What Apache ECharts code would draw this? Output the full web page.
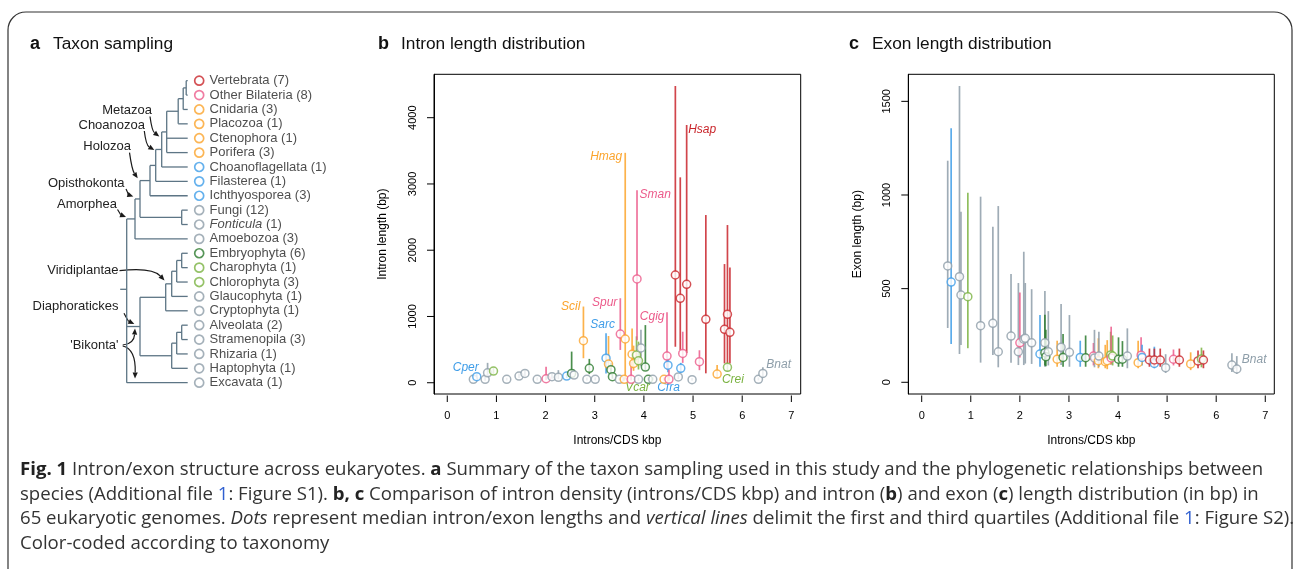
<!DOCTYPE html>
<html>
<head>
<meta charset="utf-8">
<title>Fig. 1 Intron/exon structure across eukaryotes</title>
<script src="https://cdn.jsdelivr.net/npm/echarts@6/dist/echarts.min.js"></script>
<style>
  html, body { margin: 0; padding: 0; background: #fff; }
  #fig { width: 1293px; height: 569px; }
</style>
</head>
<body>
<div id="fig"></div>
<script>
// ---- panel a: taxon sampling (top to bottom) ----
var taxa = ['Vertebrata', 'Other Bilateria', 'Cnidaria', 'Placozoa', 'Ctenophora', 'Porifera',
  'Choanoflagellata', 'Filasterea', 'Ichthyosporea', 'Fungi', 'Fonticula', 'Amoebozoa',
  'Embryophyta', 'Charophyta', 'Chlorophyta', 'Glaucophyta', 'Cryptophyta', 'Alveolata',
  'Stramenopila', 'Rhizaria', 'Haptophyta', 'Excavata'];
var taxonCounts = [7, 8, 3, 1, 1, 3, 1, 1, 3, 12, 1, 3, 6, 1, 3, 1, 1, 2, 3, 1, 1, 1];
var taxonGroup = ['V', 'B', 'O', 'O', 'O', 'O', 'U', 'U', 'U', 'F', 'F', 'F',
  'E', 'L', 'L', 'F', 'F', 'F', 'F', 'F', 'F', 'F'];

// cladogram: d = node depth (branch scale), c = children (strings are tips)
var tipDepth = 12.2;
var tree = { d: 0, c: [
  { name: 'Amorphea', d: 1.66, c: [
    { name: 'Opisthokonta', d: 2.66, c: [
      { name: 'Holozoa', d: 4.66, c: [
        { d: 5.8, c: [
          { name: 'Choanozoa', d: 7, c: [
            { name: 'Metazoa', d: 8, c: [
              { d: 10.3, c: [
                { d: 11.3, c: [
                  { d: 11.9, c: ['Vertebrata', 'Other Bilateria'] },
                  'Cnidaria'] },
                'Placozoa'] },
              'Ctenophora', 'Porifera'] },
            'Choanoflagellata'] },
          'Filasterea'] },
        'Ichthyosporea'] },
      { d: 11, c: ['Fungi', 'Fonticula'] }] },
    'Amoebozoa'] },
  { name: 'Diaphoratickes', d: 2.66, c: [
    { d: 7.8, c: [
      { d: 9, c: [
        { name: 'Viridiplantae', d: 10, c: [
          { d: 11, c: ['Embryophyta', 'Charophyta'] },
          'Chlorophyta'] },
        'Glaucophyta'] },
      'Cryptophyta'] },
    { d: 9, c: [
      { d: 10, c: [
        { d: 11, c: ['Alveolata', 'Stramenopila'] },
        'Rhizaria'] },
      'Haptophyta'] }] },
  'Excavata'] };

// ---- panel b: intron length vs intron density ----
var densB = [0.53, 0.60, 0.77, 0.82, 0.94, 1.21, 1.46, 1.58, 1.83, 2.01, 2.13, 2.26, 2.43, 2.53, 2.58,
  2.77, 2.84, 2.89, 3.01, 3.23, 3.28, 3.33, 3.36, 3.50, 3.52, 3.60, 3.62, 3.74, 3.76, 3.79,
  3.85, 3.86, 3.89, 3.89, 3.94, 4.03, 4.09, 4.18, 4.41, 4.47, 4.49, 4.51, 4.64, 4.70, 4.74,
  4.75, 4.79, 4.87, 4.98, 5.13, 5.26, 5.49, 5.64, 5.70, 5.70, 5.75, 6.33, 6.42];
var intronMed = [51, 91, 51, 150, 176, 51, 100, 141, 51, 60, 91, 82, 100, 141, 116,
  634, 51, 217, 51, 370, 282, 197, 91, 51, 735, 51, 660, 51, 430, 292,
  418, 1566, 332, 51, 524, 237, 51, 51, 51, 403, 265, 51, 1626, 87, 1274,
  217, 443, 1485, 46, 317, 957, 131, 806, 1032, 232, 761, 51, 141];
var intronQ1 = [30, 60, 30, 100, 130, 35, 70, 100, 35, 40, 60, 55, 70, 90, 80,
  370, 35, 130, 35, 140, 200, 120, 60, 35, 495, 30, 50, 35, 220, 180,
  250, 640, 200, 30, 250, 190, 35, 35, 35, 200, 160, 35, 544, 55, 494,
  150, 300, 448, 30, 190, 142, 66, 292, 292, 170, 292, 35, 80];
var intronQ3 = [80, 130, 90, 300, 230, 75, 140, 190, 80, 240, 140, 190, 140, 470, 200,
  1150, 80, 360, 80, 745, 705, 300, 150, 80, 1275, 80, 3470, 317, 820, 560,
  700, 2906, 620, 80, 800, 870, 80, 80, 80, 1063, 370, 200, 4479, 130, 3100,
  300, 770, 3890, 70, 490, 2531, 267, 1791, 2380, 300, 1741, 80, 232];
var groupB = ['F', 'U', 'F', 'F', 'L', 'F', 'F', 'F', 'F', 'B', 'F', 'F', 'U', 'E', 'F',
  'O', 'F', 'E', 'F', 'U', 'O', 'E', 'E', 'F', 'B', 'O', 'O', 'B', 'O', 'O',
  'L', 'B', 'L', 'F', 'F', 'E', 'E', 'F', 'O', 'B', 'U', 'B', 'V', 'F', 'V',
  'U', 'B', 'V', 'F', 'B', 'V', 'O', 'V', 'V', 'L', 'V', 'F', 'F'];
var tagsB = [['Cper', 1], ['Scil', 15], ['Sarc', 19], ['Spur', 24], ['Hmag', 26], ['Sman', 31],
  ['Vcar', 32], ['Cgig', 39], ['Cfra', 40], ['Hsap', 47], ['Crei', 54], ['Bnat', 57]];

// ---- panel c: exon length vs intron density ----
var densC = [0.53, 0.60, 0.77, 0.80, 0.94, 1.20, 1.45, 1.56, 1.82, 1.97, 2.00, 2.08, 2.11, 2.24,
  2.41, 2.51, 2.51, 2.53, 2.58, 2.76, 2.84, 2.88, 3.01, 3.23, 3.34, 3.50, 3.52, 3.60, 3.61,
  3.74, 3.78, 3.85, 3.86, 3.89, 4.01, 4.09, 4.19, 4.41, 4.47, 4.49, 4.64, 4.74, 4.74, 4.86,
  4.97, 5.13, 5.25, 5.48, 5.63, 5.70, 5.74, 6.32, 6.42];
var exonMed = [621, 535, 564, 466, 457, 302, 315, 163, 247, 163, 211, 230, 235, 211,
  151, 211, 158, 137, 163, 123, 187, 133, 160, 133, 131, 140, 130, 115, 140,
  110, 115, 146, 130, 140, 123, 123, 140, 105, 145, 133, 119, 101, 119, 119,
  78, 123, 119, 98, 114, 125, 119, 92, 71];
var exonQ1 = [290, 204, 151, 199, 182, 105, 146, 80, 105, 92, 133, 92, 100, 98,
  83, 83, 90, 85, 90, 83, 92, 83, 83, 83, 83, 90, 80, 75, 83,
  75, 70, 95, 95, 90, 83, 83, 75, 75, 110, 90, 83, 75, 83, 83,
  50, 90, 83, 65, 75, 80, 75, 55, 45];
var exonQ3 = [1183, 1356, 1582, 911, 1012, 991, 831, 941, 578, 530, 480, 697, 530, 497,
  359, 488, 360, 280, 380, 222, 418, 258, 359, 222, 250, 210, 280, 235, 270,
  200, 225, 270, 297, 250, 240, 220, 288, 222, 240, 200, 180, 190, 180, 180,
  150, 175, 180, 160, 170, 185, 170, 155, 140];
var groupC = ['F', 'U', 'F', 'F', 'L', 'F', 'F', 'F', 'F', 'F', 'B', 'F', 'F', 'F',
  'U', 'F', 'E', 'E', 'F', 'O', 'F', 'E', 'F', 'U', 'E', 'B', 'F', 'O', 'F',
  'O', 'O', 'L', 'B', 'L', 'E', 'E', 'F', 'O', 'B', 'U', 'V', 'U', 'V', 'V',
  'F', 'B', 'V', 'O', 'V', 'L', 'V', 'F', 'F'];
var tagsC = [['Bnat', 52]];

var introTicks = [0, 1000, 2000, 3000, 4000];
var exonTicks = [0, 500, 1000, 1500];
var densTicks = [0, 1, 2, 3, 4, 5, 6, 7];

// ---- styles / layout ----
var groupColor = { V: '#c9252b', B: '#ec5b8b', O: '#fba42c', U: '#3f9de8', F: '#8e9ea9', E: '#2c7a2e', L: '#7bb342' };
var TREE_LINE = '#5d7585';
var INK = '#1a1a1a';
var PLOT_FONT = 'Liberation Sans';
var CAP_FONT = 'Open Sans';

// axis ranges (R-style padded box)
var rangeB = { x: [-0.27, 7.19], y: [-170, 4655] };
var rangeC = { x: [-0.273, 7.184], y: [-62.5, 1644.4] };

// label anchors: [anchor (med|q3), dx, dy, align]
var tagPlaceB = {
  Cper: ['med', 2, -9.5, 'right'], Scil: ['q3', -3, 0.5, 'right'], Sarc: ['q3', -3.5, -8.5, 'center'],
  Spur: ['q3', -3, 4.5, 'right'], Hmag: ['q3', -3, 4, 'right'], Sman: ['q3', 2.5, 4, 'left'],
  Vcar: ['med', -1, 26.5, 'center'], Cgig: ['q3', -2.5, 4.5, 'right'], Cfra: ['med', 0.5, 22, 'center'],
  Hsap: ['q3', 1.5, 4.3, 'left'], Crei: ['med', 5.5, 12, 'center'], Bnat: ['med', 3.5, -8.5, 'left']
};
var tagPlaceC = { Bnat: ['med', 5, -9.7, 'left'] };

// ---- tree layout (y = tip row, x = depth) ----
var treeSegs = [];
function layoutTree(node) {
  if (typeof node === 'string') return { d: tipDepth, y: taxa.indexOf(node) };
  var kids = node.c.map(layoutTree);
  var y0 = kids[0].y, y1 = kids[kids.length - 1].y;
  treeSegs.push([node.d, y0, node.d, y1]);
  kids.forEach(function (k) { treeSegs.push([node.d, k.y, k.d, k.y]); });
  return { d: node.d, y: (y0 + y1) / 2 };
}
var rootPos = layoutTree(tree);
treeSegs.push([-1.3, rootPos.y - 0.8, 0, rootPos.y - 0.8]);

function segSeries() {
  return {
    type: 'custom', xAxisIndex: 0, yAxisIndex: 0, silent: true,
    data: treeSegs, encode: { x: [0, 2], y: [1, 3] },
    renderItem: function (params, api) {
      var a = api.coord([api.value(0), api.value(1)]);
      var b = api.coord([api.value(2), api.value(3)]);
      return { type: 'line', shape: { x1: a[0], y1: a[1], x2: b[0], y2: b[1] },
        style: { stroke: TREE_LINE, lineWidth: 1.3 } };
    }
  };
}

function tipSeries() {
  return {
    type: 'scatter', xAxisIndex: 0, yAxisIndex: 0, silent: true,
    symbol: 'circle', symbolSize: 9,
    data: taxa.map(function (t, i) {
      return {
        value: [14.5, i],
        itemStyle: { color: '#fff', borderColor: groupColor[taxonGroup[i]], borderWidth: 1.7 },
        label: {
          show: true, position: 'right', distance: 5,
          formatter: (t === 'Fonticula' ? '{i|' + t + '}' : t) + ' (' + taxonCounts[i] + ')',
          color: '#222', fontFamily: PLOT_FONT, fontSize: 13,
          rich: { i: { fontStyle: 'italic', color: '#222', fontFamily: PLOT_FONT, fontSize: 13 } }
        }
      };
    })
  };
}

function rangeSeries(ax, xs, lo, hi, grp) {
  return {
    type: 'custom', xAxisIndex: ax, yAxisIndex: ax, silent: true,
    data: xs.map(function (x, i) { return [x, lo[i], hi[i], i]; }),
    encode: { x: 0, y: [1, 2] },
    renderItem: function (params, api) {
      var i = api.value(3);
      var a = api.coord([api.value(0), api.value(1)]);
      var b = api.coord([api.value(0), api.value(2)]);
      return { type: 'line', shape: { x1: a[0], y1: a[1], x2: b[0], y2: b[1] },
        style: { stroke: groupColor[grp[i]], lineWidth: 1.7, opacity: 0.85 } };
    }
  };
}

function medianSeries(ax, xs, med, grp) {
  return {
    type: 'scatter', xAxisIndex: ax, yAxisIndex: ax, silent: true,
    symbol: 'circle', symbolSize: 8,
    data: xs.map(function (x, i) {
      return { value: [x, med[i]], itemStyle: { color: '#fff', borderColor: groupColor[grp[i]], borderWidth: 1.5 } };
    })
  };
}

function tagSeries(ax, tags, place, xs, med, hi, grp) {
  return {
    type: 'custom', xAxisIndex: ax, yAxisIndex: ax, silent: true,
    data: tags.map(function (t, k) { return [xs[t[1]], med[t[1]], k]; }),
    encode: { x: 0, y: 1 },
    renderItem: function (params, api) {
      var t = tags[api.value(2)], i = t[1], p = place[t[0]];
      var c = api.coord([xs[i], p[0] === 'q3' ? hi[i] : med[i]]);
      return { type: 'text', x: c[0] + p[1], y: c[1] + p[2],
        style: { text: t[0], fill: groupColor[grp[i]], fontStyle: 'italic', fontSize: 12,
          fontFamily: PLOT_FONT, align: p[3], verticalAlign: 'middle' } };
    }
  };
}

// R-style tick marks hanging outside the box (x ticks slightly detached)
function tickSeries(ax, range, xTicks, yTicks) {
  var data = xTicks.map(function (v) { return [v, range.y[0], 0]; })
    .concat(yTicks.map(function (v) { return [range.x[0], v, 1]; }));
  return {
    type: 'custom', xAxisIndex: ax, yAxisIndex: ax, silent: true, clip: false,
    data: data, encode: { x: 0, y: 1 },
    renderItem: function (params, api) {
      var p = api.coord([api.value(0), api.value(1)]);
      var shape = api.value(2) === 0
        ? { x1: p[0], y1: p[1] + 1.5, x2: p[0], y2: p[1] + 8 }
        : { x1: p[0] - 7, y1: p[1], x2: p[0], y2: p[1] };
      return { type: 'line', shape: shape, style: { stroke: '#000', lineWidth: 1 } };
    }
  };
}

function plain(v) { return String(v); }

function densAxis(grid, range) {
  return {
    type: 'value', gridIndex: grid, min: range.x[0], max: range.x[1], position: 'bottom',
    axisLine: { show: false, onZero: false }, splitLine: { show: false }, axisTick: { show: false },
    axisLabel: { customValues: densTicks, formatter: plain, margin: 16, color: '#000', fontSize: 11, fontFamily: PLOT_FONT },
    name: 'Introns/CDS kbp', nameLocation: 'middle', nameGap: 41,
    nameTextStyle: { color: '#000', fontSize: 12, fontFamily: PLOT_FONT }
  };
}

function lenAxis(grid, range, ticks, title) {
  return {
    type: 'value', gridIndex: grid, min: range.y[0], max: range.y[1], position: 'left',
    axisLine: { show: true, onZero: false, lineStyle: { color: '#000', width: 1 } }, splitLine: { show: false },
    axisTick: { show: false },
    axisLabel: { customValues: ticks, formatter: plain, rotate: 90, margin: 16, color: '#000', fontSize: 11, fontFamily: PLOT_FONT },
    name: title, nameLocation: 'middle', nameGap: 45, nameRotate: 90,
    nameTextStyle: { color: '#000', fontSize: 12, fontFamily: PLOT_FONT }
  };
}

// ---- annotation helpers (panel a clade names, arrows) ----
function curvedArrow(p0, c, p1) {
  var ang = Math.atan2(p1[1] - c[1], p1[0] - c[0]);
  var L = 6, W = 2.6;
  var bx = p1[0] - L * Math.cos(ang), by = p1[1] - L * Math.sin(ang);
  var head = [[p1[0], p1[1]],
    [bx + W * Math.sin(ang), by - W * Math.cos(ang)],
    [bx - W * Math.sin(ang), by + W * Math.cos(ang)]];
  return [
    { type: 'bezierCurve', silent: true, shape: { x1: p0[0], y1: p0[1], cpx1: c[0], cpy1: c[1], x2: bx, y2: by },
      style: { stroke: INK, lineWidth: 1.2, fill: null } },
    { type: 'polygon', silent: true, shape: { points: head }, style: { fill: INK } }
  ];
}

var cladeNotes = [
  { text: 'Metazoa', at: [152, 110], arrows: [[[150, 116.5], [152, 131], [159.3, 136.5]]] },
  { text: 'Choanozoa', at: [145, 125], arrows: [[[144.3, 131], [146, 145], [154.3, 150]]] },
  { text: 'Holozoa', at: [131, 146.7], arrows: [[[129.5, 152.7], [132, 170], [137.7, 178.3]]] },
  { text: 'Opisthokonta', at: [124.5, 183.3], arrows: [[[126, 189], [129, 195], [133.3, 196.5]]] },
  { text: 'Amorphea', at: [117, 204.3], arrows: [[[117.5, 209.5], [121, 215], [126, 217]]] },
  { text: 'Viridiplantae', at: [118.5, 270.7], arrows: [[[119.5, 270.7], [152, 267], [164.5, 280.5]]] },
  { text: 'Diaphoratickes', at: [118.5, 306.7], arrows: [[[124, 313.3], [128, 321], [134.3, 324]]] },
  { text: "'Bikonta'", at: [118.5, 345], arrows: [[[122.7, 345], [134, 344], [135, 328.5]],
                                                 [[122.7, 346], [136, 349], [135, 378.5]]] }
];

var graphics = [
  { type: 'rect', silent: true, shape: { x: 8, y: 12, width: 1284, height: 620, r: 18 },
    style: { fill: null, stroke: '#333', lineWidth: 1.2 } }
];

[['a', 'Taxon sampling', 30], ['b', 'Intron length distribution', 378], ['c', 'Exon length distribution', 849]]
  .forEach(function (p) {
    graphics.push({ type: 'text', silent: true, x: p[2], y: 44,
      style: { text: p[0], fontSize: 18, fontWeight: 'bold', fontFamily: PLOT_FONT, fill: '#111', verticalAlign: 'middle' } });
    graphics.push({ type: 'text', silent: true, x: p[2] + 23, y: 44,
      style: { text: p[1], fontSize: 17.3, fontFamily: PLOT_FONT, fill: '#111', verticalAlign: 'middle' } });
  });

cladeNotes.forEach(function (n) {
  graphics.push({ type: 'text', silent: true, x: n.at[0], y: n.at[1],
    style: { text: n.text, fontSize: 13, fontFamily: PLOT_FONT, fill: '#222', align: 'right', verticalAlign: 'middle' } });
  n.arrows.forEach(function (a) {
    curvedArrow(a[0], a[1], a[2]).forEach(function (g) { graphics.push(g); });
  });
});

var captionLines = [
  '{b|Fig. 1} Intron/exon structure across eukaryotes. {b|a} Summary of the taxon sampling used in this study and the phylogenetic relationships between',
  'species (Additional file {l|1}: Figure S1). {b|b, c} Comparison of intron density (introns/CDS kbp) and intron ({b|b}) and exon ({b|c}) length distribution (in bp) in',
  '65 eukaryotic genomes. {i|Dots} represent median intron/exon lengths and {i|vertical lines} delimit the first and third quartiles (Additional file {l|1}: Figure S2).',
  'Color-coded according to taxonomy'
];
var capSize = 18.6;
captionLines.forEach(function (line, k) {
  graphics.push({ type: 'text', silent: true, x: 20, y: 470 + k * 24.6,
    style: { text: line, fontSize: capSize, fontFamily: CAP_FONT, fill: '#333', verticalAlign: 'middle',
      rich: {
        b: { fontWeight: 'bold', fontSize: capSize, fontFamily: CAP_FONT, fill: '#222' },
        i: { fontStyle: 'italic', fontSize: capSize, fontFamily: CAP_FONT, fill: '#333' },
        l: { fontSize: capSize, fontFamily: CAP_FONT, fill: '#2f5fd0' }
      } } });
});

var chart = echarts.init(document.getElementById('fig'), null, { renderer: 'canvas' });
chart.setOption({
  animation: false,
  backgroundColor: '#fff',
  grid: [
    { left: 1.7, top: 80.7, width: 225, height: 302, show: false },
    { left: 434, top: 74.3, width: 366.7, height: 319.7, show: true, borderColor: '#000', borderWidth: 1 },
    { left: 908.3, top: 74.3, width: 366, height: 319.7, show: true, borderColor: '#000', borderWidth: 1 }
  ],
  xAxis: [
    { type: 'value', gridIndex: 0, min: -25, max: 20, show: false },
    densAxis(1, rangeB),
    densAxis(2, rangeC)
  ],
  yAxis: [
    { type: 'value', gridIndex: 0, min: 0, max: 21, inverse: true, show: false },
    lenAxis(1, rangeB, introTicks, 'Intron length (bp)'),
    lenAxis(2, rangeC, exonTicks, 'Exon length (bp)')
  ],
  series: [
    segSeries(),
    tipSeries(),
    tickSeries(1, rangeB, densTicks, introTicks),
    rangeSeries(1, densB, intronQ1, intronQ3, groupB),
    medianSeries(1, densB, intronMed, groupB),
    tagSeries(1, tagsB, tagPlaceB, densB, intronMed, intronQ3, groupB),
    tickSeries(2, rangeC, densTicks, exonTicks),
    rangeSeries(2, densC, exonQ1, exonQ3, groupC),
    medianSeries(2, densC, exonMed, groupC),
    tagSeries(2, tagsC, tagPlaceC, densC, exonMed, exonQ3, groupC)
  ],
  graphic: graphics
});
</script>
</body>
</html>
